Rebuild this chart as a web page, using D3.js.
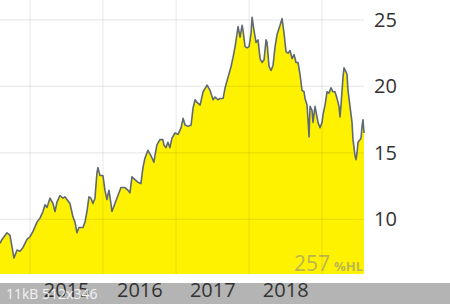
<!DOCTYPE html>
<html>
<head>
<meta charset="utf-8">
<script src="https://cdn.jsdelivr.net/npm/d3@7"></script>
<style>
  html, body { margin: 0; padding: 0; background: #fff; }
  svg { display: block; font-family: "Open Sans", sans-serif; }
</style>
</head>
<body>
<div id="chart"></div>
<script>
// Price series
var dates = [
  "2014-08-04","2014-08-14","2014-09-08","2014-09-23","2014-10-13","2014-10-28","2014-11-12","2014-11-27","2014-12-17",
  "2015-01-01","2015-01-16","2015-02-05","2015-02-20","2015-03-07","2015-03-17","2015-03-27","2015-04-11","2015-04-26",
  "2015-05-06","2015-05-16","2015-05-31","2015-06-15","2015-06-25","2015-07-05","2015-07-20","2015-08-04","2015-08-14",
  "2015-08-24","2015-09-03","2015-09-23","2015-10-03","2015-10-13","2015-10-23","2015-11-02","2015-11-12","2015-11-22",
  "2015-12-02","2015-12-07","2015-12-17",
  "2016-01-01","2016-01-11","2016-01-21","2016-01-31","2016-02-10","2016-02-15","2016-03-01","2016-03-16","2016-03-31",
  "2016-04-20","2016-05-05","2016-05-15","2016-05-25","2016-06-09","2016-06-24","2016-07-09","2016-07-19","2016-07-29",
  "2016-08-13","2016-08-28","2016-09-12","2016-09-17","2016-09-27","2016-10-12","2016-10-27","2016-11-01","2016-11-11",
  "2016-11-21","2016-12-01","2016-12-11","2016-12-26",
  "2017-01-11","2017-01-26","2017-02-05","2017-02-15","2017-03-02","2017-03-17","2017-03-27","2017-04-06","2017-04-16",
  "2017-05-01","2017-05-16","2017-06-05","2017-06-20","2017-07-05","2017-07-15","2017-07-30","2017-08-09","2017-08-24",
  "2017-09-03","2017-09-18","2017-10-03","2017-10-13","2017-10-23","2017-11-02","2017-11-07","2017-11-17","2017-11-27",
  "2017-12-02","2017-12-12","2017-12-22",
  "2018-01-01","2018-01-11","2018-01-16","2018-01-26","2018-02-05","2018-02-15","2018-02-25","2018-03-07","2018-03-17",
  "2018-03-27","2018-04-01","2018-04-11","2018-04-21","2018-05-01","2018-05-11","2018-05-21","2018-06-05","2018-06-15",
  "2018-06-25","2018-07-05","2018-07-15","2018-07-25","2018-08-04","2018-08-14","2018-08-24","2018-09-03","2018-09-13",
  "2018-09-23","2018-10-03","2018-10-08","2018-10-18","2018-10-23","2018-10-28","2018-11-02","2018-11-12","2018-11-17",
  "2018-11-27","2018-12-02","2018-12-12","2018-12-22",
  "2019-01-01","2019-01-06","2019-01-16","2019-01-26","2019-02-05","2019-02-15","2019-02-25","2019-03-07","2019-03-17",
  "2019-03-27","2019-04-01","2019-04-06","2019-04-16","2019-04-21","2019-05-01","2019-05-06","2019-05-11","2019-05-21",
  "2019-05-31","2019-06-05","2019-06-15","2019-06-20","2019-06-25","2019-06-30","2019-07-10","2019-07-15","2019-07-20",
  "2019-07-25","2019-07-30"
];
var prices = [
  8.2, 8.5, 9.0, 8.8, 7.1, 7.7, 7.6, 7.9, 8.5,
  8.7, 9.1, 9.8, 10.1, 10.6, 11.1, 10.9, 11.6, 11.2,
  10.6, 11.3, 11.8, 11.6, 11.7, 11.5, 11.2, 10.2, 9.8,
  9.0, 9.4, 9.4, 9.8, 10.6, 11.7, 11.6, 11.2, 11.6,
  13.5, 13.9, 13.3,
  13.3, 12.2, 11.5, 12.2, 11.2, 10.6, 11.2, 11.8, 12.4,
  12.4, 12.2, 12.0, 13.2, 13.0, 12.8, 12.7, 13.9, 14.6,
  15.2, 14.8, 14.3, 14.8, 15.6, 16.0, 16.0, 15.6, 15.4,
  15.8, 15.4, 16.1, 16.5,
  16.4, 16.9, 17.6, 17.1, 17.0, 17.1, 18.4, 19.0, 18.8,
  18.6, 19.6, 20.1, 19.7, 19.0, 19.2, 19.0, 19.1, 19.1,
  19.9, 20.7, 21.5, 22.2, 23.0, 24.0, 24.5, 23.7, 24.6,
  24.2, 23.0, 22.9,
  23.0, 24.0, 25.2, 24.2, 23.3, 23.5, 22.1, 21.8, 22.0,
  23.5, 23.3, 21.5, 21.2, 21.6, 23.0, 23.9, 24.6, 25.1,
  24.0, 22.6, 22.5, 22.7, 22.1, 22.4, 21.8, 21.8, 20.9,
  19.7, 19.6, 19.1, 18.6, 17.5, 16.2, 18.5, 18.2, 17.3,
  18.5, 18.1, 17.3, 16.9,
  17.3, 17.9, 18.6, 19.6, 19.5, 19.9, 19.6, 19.6, 19.1,
  18.5, 17.7, 18.6, 20.7, 21.4, 21.1, 20.9, 19.7, 18.5,
  17.3, 16.0, 14.8, 14.5, 15.0, 15.8, 16.0, 16.1, 17.0,
  17.5, 16.5
];
var yTicks = [10, 15, 20, 25];
var yearStarts = ["2015-01-01", "2016-01-01", "2017-01-01", "2018-01-01", "2019-01-01"];
var yearLabels = ["2015", "2016", "2017", "2018"];
var marker = "257";
var markerUnit = "%HL";
var caption = "11kB 512x346";

var width = 450, height = 304;
var plot = {left: 0, right: 364, top: 0, bottom: 274};

var parse = d3.timeParse("%Y-%m-%d");
var data = dates.map(function(d, i) { return {date: parse(d), value: prices[i]}; });

var svg = d3.select("#chart")
            .append("svg")
            .attr("width", width)
            .attr("height", height);

// Scales
var xScale = d3.scaleTime()
  .domain(d3.extent(data, function(d) { return d.date; }))
  .range([plot.left, plot.right]);

var yScale = d3.scaleLinear()
  .domain([5.9, 26.5])
  .range([plot.bottom, plot.top]);

// Yellow area + line
var area = d3.area()
  .x(function(d) { return xScale(d.date); })
  .y0(plot.bottom)
  .y1(function(d) { return yScale(d.value); });

var line = d3.line()
  .x(function(d) { return xScale(d.date); })
  .y(function(d) { return yScale(d.value); });

svg.append("path")
   .datum(data)
   .attr("d", area)
   .style("fill", "#fff200");

// Grid lines sit over the fill
var grid = svg.append("g").attr("class", "grid");

grid.selectAll("line.h")
    .data(yTicks)
    .enter()
    .append("line")
    .attr("x1", plot.left)
    .attr("x2", plot.right)
    .attr("y1", function(d) { return yScale(d); })
    .attr("y2", function(d) { return yScale(d); })
    .style("stroke", "#000")
    .style("stroke-opacity", 0.08)
    .style("stroke-width", 1.2);

grid.selectAll("line.v")
    .data(yearStarts.map(parse))
    .enter()
    .append("line")
    .attr("x1", function(d) { return xScale(d); })
    .attr("x2", function(d) { return xScale(d); })
    .attr("y1", plot.top)
    .attr("y2", plot.bottom)
    .style("stroke", "#000")
    .style("stroke-opacity", 0.08)
    .style("stroke-width", 1.2);

svg.append("path")
   .datum(data)
   .attr("d", line)
   .style("fill", "none")
   .style("stroke", "#5f6972")
   .style("stroke-width", 1.6)
   .style("stroke-linejoin", "round");

// Right axis
var yAxis = d3.axisRight(yScale)
  .tickValues(yTicks)
  .tickSize(0)
  .tickPadding(10);

var yAxisGroup = svg.append("g")
  .attr("transform", "translate(" + plot.right + ",0)")
  .call(yAxis);

yAxisGroup.select(".domain").remove();
yAxisGroup.selectAll("text")
  .style("font-size", "20px")
  .style("font-family", "'Open Sans', sans-serif")
  .style("fill", "#333");

// Watermark in the corner of the plot
var mark = svg.append("text")
  .attr("x", plot.right - 1)
  .attr("y", plot.bottom - 3)
  .attr("text-anchor", "end")
  .style("fill", "#8c8c8c")
  .style("fill-opacity", 0.6);
mark.append("tspan").style("font-size", "21px").text(marker);
mark.append("tspan").attr("dx", 4).style("font-size", "13px").style("font-weight", "bold").text(markerUnit);

// Grey caption strip along the bottom
svg.append("rect")
   .attr("x", 0)
   .attr("y", 283)
   .attr("width", width)
   .attr("height", height - 283)
   .style("fill", "#b4b4b4");

// Year labels, centred inside each year
var mid = yearLabels.map(function(y) { return new Date(+y, 6, 1); });
var xAxis = d3.axisBottom(xScale)
  .tickValues(mid)
  .tickSize(0)
  .tickPadding(0)
  .tickFormat(d3.timeFormat("%Y"));

var xAxisGroup = svg.append("g")
  .attr("transform", "translate(0,283)")
  .call(xAxis);

xAxisGroup.select(".domain").remove();
xAxisGroup.selectAll("text")
  .attr("dy", "0.72em")
  .attr("y", 0)
  .style("font-size", "20px")
  .style("font-family", "'Open Sans', sans-serif")
  .style("fill", "#333");

svg.append("text")
   .attr("x", 6)
   .attr("y", 298.5)
   .style("font-size", "14px")
   .style("fill", "#f2f2f2")
   .text(caption);
</script>
</body>
</html>
